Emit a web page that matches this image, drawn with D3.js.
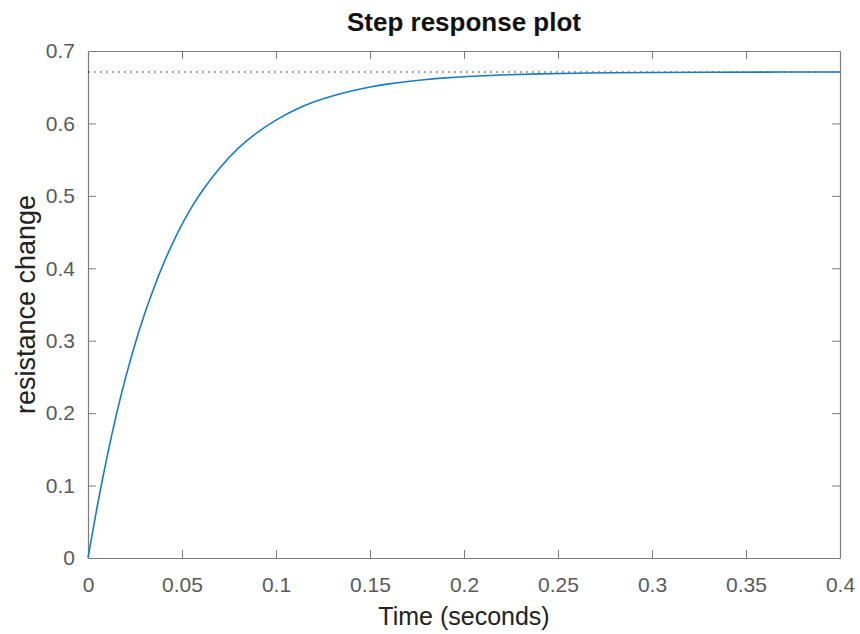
<!DOCTYPE html>
<html>
<head>
<meta charset="UTF-8">
<script src="https://d3js.org/d3.v7.min.js"></script>
<style>
  * { margin: 0; padding: 0; }
  body { background: #fff; width: 860px; height: 634px; overflow: hidden; font-family: 'Liberation Sans', Arial, sans-serif; }
  svg { display: block; }
</style>
</head>
<body>
<svg id="chart"></svg>
<script>
// step response
const time = [0, 0.005, 0.01, 0.015, 0.02, 0.025, 0.03, 0.035, 0.04, 0.045, 0.05, 0.055, 0.06, 0.07, 0.08, 0.09,
  0.10, 0.11, 0.12, 0.13, 0.14, 0.15, 0.16, 0.17, 0.18, 0.19, 0.20, 0.22, 0.24, 0.26, 0.28, 0.30, 0.33, 0.36, 0.40];
const response = [0, 0.074, 0.139, 0.198, 0.250, 0.296, 0.337, 0.373, 0.406, 0.435, 0.461, 0.484, 0.505, 0.539, 0.567, 0.588,
  0.605, 0.619, 0.630, 0.638, 0.645, 0.6505, 0.6548, 0.6581, 0.6608, 0.6629, 0.6646, 0.667, 0.6685, 0.6694, 0.670, 0.6704, 0.6707, 0.6709, 0.671];
const finalValue = 0.671;

const xTicks = [0, 0.05, 0.1, 0.15, 0.2, 0.25, 0.3, 0.35, 0.4];
const xTickLabels = ['0', '0.05', '0.1', '0.15', '0.2', '0.25', '0.3', '0.35', '0.4'];
const yTicks = [0, 0.1, 0.2, 0.3, 0.4, 0.5, 0.6, 0.7];
const yTickLabels = ['0', '0.1', '0.2', '0.3', '0.4', '0.5', '0.6', '0.7'];

const titleText = 'Step response plot';
const xLabel = 'Time (seconds)';
const yLabel = 'resistance change';

(function() {
  const W = 860, H = 634;
  const m = { left: 88, right: 20, top: 51, bottom: 76 };
  const svg = d3.select('#chart').attr('width', W).attr('height', H);
  const iw = W - m.left - m.right, ih = H - m.top - m.bottom;
  const g = svg.append('g').attr('transform', `translate(${m.left},${m.top})`);

  const x = d3.scaleLinear().domain([0, 0.4]).range([0, iw]);
  const y = d3.scaleLinear().domain([0, 0.7]).range([ih, 0]);

  const AXIS = '#7c7c7c', TXT = '#5a5a5a', TICK = 8;

  // axes (box on, ticks inside)
  const bottom = g.append('g').attr('transform', `translate(0,${ih})`)
    .call(d3.axisBottom(x).tickValues(xTicks).tickSize(-TICK).tickSizeOuter(0)
      .tickFormat((d, i) => xTickLabels[i]).tickPadding(19));
  const top = g.append('g')
    .call(d3.axisTop(x).tickValues(xTicks).tickSize(-TICK).tickSizeOuter(0).tickFormat(''));
  const left = g.append('g')
    .call(d3.axisLeft(y).tickValues(yTicks).tickSize(-TICK).tickSizeOuter(0)
      .tickFormat((d, i) => yTickLabels[i]).tickPadding(13));
  const right = g.append('g').attr('transform', `translate(${iw},0)`)
    .call(d3.axisRight(y).tickValues(yTicks).tickSize(-TICK).tickSizeOuter(0).tickFormat(''));

  [bottom, top, left, right].forEach(a => {
    a.select('.domain').attr('stroke', AXIS).attr('stroke-width', 1.2);
    a.selectAll('.tick line').attr('stroke', AXIS).attr('stroke-width', 1);
    a.selectAll('.tick text').attr('fill', TXT).attr('font-size', 21)
      .attr('font-family', "'Liberation Sans', Arial, sans-serif");
  });
  // hide edge ticks that sit on the box
  [bottom, top].forEach(a => a.selectAll('.tick line').filter(d => d === 0 || d === 0.4).attr('display', 'none'));
  [left, right].forEach(a => a.selectAll('.tick line').filter(d => d === 0 || d === 0.7).attr('display', 'none'));

  // steady-state dotted line
  g.append('line')
    .attr('x1', x(0)).attr('x2', x(0.4))
    .attr('y1', y(finalValue)).attr('y2', y(finalValue))
    .attr('stroke', '#222').attr('stroke-width', 1.2)
    .attr('stroke-dasharray', '1.5,4.5');

  // response curve
  const pts = time.map((t, i) => [t, response[i]]);
  g.append('path').datum(pts)
    .attr('fill', 'none').attr('stroke', '#1a7cbf').attr('stroke-width', 1.6)
    .attr('d', d3.line().x(d => x(d[0])).y(d => y(d[1])).curve(d3.curveBasis));

  // title & labels
  svg.append('text')
    .attr('x', m.left + iw / 2).attr('y', 31)
    .attr('text-anchor', 'middle').attr('font-size', 26).attr('font-weight', 'bold')
    .attr('fill', '#111').text(titleText);

  svg.append('text')
    .attr('x', m.left + iw / 2).attr('y', 625)
    .attr('text-anchor', 'middle').attr('font-size', 25)
    .attr('fill', '#222').text(xLabel);

  svg.append('text')
    .attr('transform', `translate(35,${m.top + ih / 2}) rotate(-90)`)
    .attr('text-anchor', 'middle').attr('font-size', 27)
    .attr('fill', '#222').text(yLabel);
})();
</script>
</body>
</html>
